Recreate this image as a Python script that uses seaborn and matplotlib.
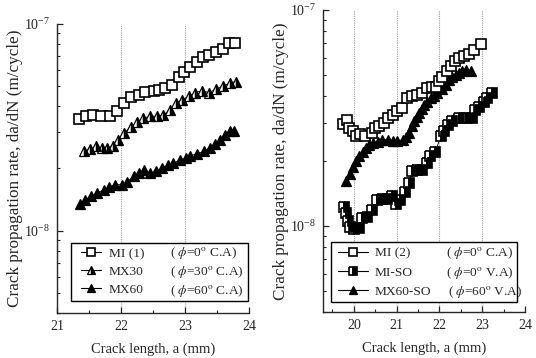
import matplotlib
matplotlib.use("Agg")
import matplotlib.pyplot as plt
import seaborn as sns
import numpy as np
import pandas as pd
from matplotlib.lines import Line2D
from matplotlib.patches import Rectangle
from matplotlib.ticker import LogLocator, MultipleLocator, NullFormatter

# ---------------- data (left panel) ----------------
mi1_x = [21.35, 21.46, 21.57, 21.69, 21.83, 21.94, 22.05, 22.16, 22.28, 22.38, 22.52, 22.60,
         22.68, 22.80, 22.90, 22.98, 23.08, 23.19, 23.28, 23.37, 23.49, 23.59, 23.68, 23.78]
mi1_y = [3.47e-8, 3.57e-8, 3.63e-8, 3.59e-8, 3.57e-8, 3.80e-8, 4.14e-8, 4.42e-8, 4.54e-8, 4.71e-8,
         4.76e-8, 4.80e-8, 4.89e-8, 5.07e-8, 5.52e-8, 5.88e-8, 6.22e-8, 6.58e-8, 6.90e-8, 7.08e-8,
         7.35e-8, 7.55e-8, 8.13e-8, 8.13e-8]

mx30_x = [21.42, 21.51, 21.61, 21.70, 21.78, 21.875, 21.95, 22.05, 22.15, 22.25, 22.35, 22.46,
          22.56, 22.66, 22.77, 22.86, 22.95, 23.06, 23.16, 23.27, 23.37, 23.49, 23.59, 23.70, 23.79]
mx30_y = [2.42e-8, 2.48e-8, 2.56e-8, 2.51e-8, 2.51e-8, 2.57e-8, 2.75e-8, 2.96e-8, 3.19e-8, 3.34e-8,
          3.50e-8, 3.59e-8, 3.57e-8, 3.63e-8, 3.84e-8, 4.14e-8, 4.30e-8, 4.46e-8, 4.66e-8, 4.76e-8,
          4.66e-8, 4.83e-8, 5.01e-8, 5.17e-8, 5.27e-8]

mx60_x = [21.36, 21.44, 21.53, 21.625, 21.73, 21.82, 21.91, 22.02, 22.10, 22.20, 22.28, 22.36,
          22.46, 22.55, 22.64, 22.74, 22.82, 22.92, 23.01, 23.08, 23.19, 23.29, 23.39, 23.47,
          23.55, 23.63, 23.71, 23.77]
mx60_y = [1.34e-8, 1.41e-8, 1.47e-8, 1.52e-8, 1.58e-8, 1.63e-8, 1.67e-8, 1.67e-8, 1.73e-8, 1.83e-8,
          1.90e-8, 1.96e-8, 1.90e-8, 1.94e-8, 2.01e-8, 2.08e-8, 2.12e-8, 2.20e-8, 2.24e-8, 2.30e-8,
          2.36e-8, 2.42e-8, 2.51e-8, 2.63e-8, 2.75e-8, 2.91e-8, 3.02e-8, 3.04e-8]

# ---------------- data (right panel) ----------------
mi2_x = [19.74, 19.845, 19.88, 19.98, 20.05, 20.155, 20.27, 20.43, 20.50, 20.58, 20.70, 20.81,
         20.91, 21.01, 21.12, 21.24, 21.36, 21.47, 21.59, 21.705, 21.82, 21.91, 21.98, 22.05,
         22.17, 22.26, 22.36, 22.46, 22.58, 22.69, 22.81, 22.98]
mi2_y = [2.96e-8, 3.10e-8, 2.84e-8, 2.74e-8, 2.61e-8, 2.66e-8, 2.60e-8, 2.69e-8, 2.84e-8, 2.89e-8,
         2.99e-8, 3.16e-8, 3.27e-8, 3.39e-8, 3.51e-8, 3.91e-8, 3.98e-8, 4.05e-8, 4.15e-8, 4.35e-8,
         4.40e-8, 4.40e-8, 4.67e-8, 4.92e-8, 5.20e-8, 5.48e-8, 5.78e-8, 5.99e-8, 6.10e-8, 6.28e-8,
         6.55e-8, 6.95e-8]

miso_x = [19.77, 19.81, 19.87, 19.92, 20.00, 20.12, 20.19, 20.31, 20.43, 20.54, 20.66, 20.78,
          20.89, 20.98, 21.09, 21.19, 21.28, 21.36, 21.47, 21.59, 21.705, 21.78, 21.90, 22.03,
          22.11, 22.19, 22.30, 22.46, 22.61, 22.77, 22.84, 22.92, 23.04, 23.12, 23.22]
miso_y = [1.23e-8, 1.15e-8, 1.05e-8, 9.93e-9, 9.65e-9, 9.75e-9, 1.09e-8, 1.10e-8, 1.19e-8, 1.32e-8,
          1.34e-8, 1.33e-8, 1.38e-8, 1.27e-8, 1.32e-8, 1.44e-8, 1.58e-8, 1.79e-8, 1.81e-8, 1.82e-8,
          1.95e-8, 2.10e-8, 2.19e-8, 2.60e-8, 2.74e-8, 2.94e-8, 3.05e-8, 3.16e-8, 3.16e-8, 3.16e-8,
          3.45e-8, 3.57e-8, 3.77e-8, 3.91e-8, 4.12e-8]

mx60so_x = [19.82, 19.90, 19.98, 20.05, 20.13, 20.21, 20.29, 20.36, 20.44, 20.56, 20.67, 20.79,
            20.91, 21.02, 21.14, 21.22, 21.29, 21.36, 21.41, 21.47, 21.53, 21.59, 21.64, 21.72,
            21.80, 21.88, 21.95, 22.05, 22.15, 22.22, 22.30, 22.38, 22.46, 22.53, 22.61, 22.73]
mx60so_y = [1.61e-8, 1.74e-8, 1.88e-8, 1.99e-8, 2.10e-8, 2.20e-8, 2.29e-8, 2.36e-8, 2.42e-8, 2.46e-8,
            2.51e-8, 2.51e-8, 2.48e-8, 2.48e-8, 2.51e-8, 2.58e-8, 2.69e-8, 2.89e-8, 3.05e-8, 3.19e-8,
            3.33e-8, 3.48e-8, 3.64e-8, 3.77e-8, 3.91e-8, 4.01e-8, 4.12e-8, 4.30e-8, 4.51e-8, 4.72e-8,
            4.92e-8, 5.01e-8, 5.10e-8, 5.22e-8, 5.29e-8, 5.20e-8]

left_names = ["MI (1)", "MX30", "MX60"]
left_angles = [r"( $\phi$=0$^{\rm o}$ C.A)", r"( $\phi$=30$^{\rm o}$ C.A)", r"( $\phi$=60$^{\rm o}$ C.A)"]
right_names = ["MI (2)", "MI-SO", "MX60-SO"]
right_angles = [r"( $\phi$=0$^{\rm o}$ C.A)", r"( $\phi$=0$^{\rm o}$ V.A)", r"( $\phi$=60$^{\rm o}$ V.A)"]
left_xticks = [21, 22, 23, 24]
right_xticks = [20, 21, 22, 23, 24]
left_grid = [22, 23]
right_grid = [20, 21, 22, 23]

# ---------------- style ----------------
sns.set_style("ticks")
plt.rcParams["font.family"] = ["Liberation Serif", "DejaVu Serif"]
plt.rcParams["mathtext.fontset"] = "stix"

W, H = 536, 358
fig = plt.figure(figsize=(W / 100, H / 100), dpi=100)

def px_rect(l, t, r, b):
    return [l / W, 1 - b / H, (r - l) / W, (b - t) / H]

axL = fig.add_axes(px_rect(57, 24, 249, 313))
axR = fig.add_axes(px_rect(323, 10, 525, 312))

styles = {
    "sq_open": dict(marker="s", markersize=7.0, markerfacecolor="white", markeredgecolor="black",
                    markeredgewidth=1.2),
    "tri_half": dict(marker="^", markersize=7.5, fillstyle="left", markerfacecolor="white",
                     markerfacecoloralt="black", markeredgecolor="black", markeredgewidth=0.9),
    "tri_full": dict(marker="^", markersize=7.5, markerfacecolor="black", markeredgecolor="black",
                     markeredgewidth=0.9),
    "sq_half": dict(marker="s", markersize=7.0, fillstyle="left", markerfacecolor="white",
                    markerfacecoloralt="black", markeredgecolor="black", markeredgewidth=1.2),
}

def draw(ax, x, y, st):
    df = pd.DataFrame({"x": x, "y": y})
    sns.lineplot(data=df, x="x", y="y", ax=ax, sort=False, estimator=None, color="black",
                 linewidth=0.6, **styles[st])

draw(axL, mi1_x, mi1_y, "sq_open")
draw(axL, mx30_x, mx30_y, "tri_half")
draw(axL, mx60_x, mx60_y, "tri_full")

draw(axR, mx60so_x, mx60so_y, "tri_full")
draw(axR, miso_x, miso_y, "sq_half")
draw(axR, mi2_x, mi2_y, "sq_open")

for ax, xl, xt, gl in [(axL, (21, 24), left_xticks, left_grid),
                       (axR, (19.28, 24), right_xticks, right_grid)]:
    ax.set_yscale("log")
    ax.set_ylim(4.0e-9, 1e-7)
    ax.set_xlim(*xl)
    ax.set_xticks(xt)
    ax.xaxis.set_minor_locator(MultipleLocator(0.5))
    ax.yaxis.set_major_locator(LogLocator(base=10, numticks=10))
    ax.yaxis.set_minor_locator(LogLocator(base=10, subs=np.arange(2, 10), numticks=20))
    ax.yaxis.set_minor_formatter(NullFormatter())
    for g in gl:
        ax.axvline(g, color="#a0a0a0", linestyle=(0, (1, 1)), linewidth=0.8, zorder=0)
    ax.spines["top"].set_visible(False)
    ax.spines["right"].set_visible(False)
    for s in ["left", "bottom"]:
        ax.spines[s].set_linewidth(1.0)
    ax.tick_params(which="major", direction="in", length=4, width=0.9, labelsize=10, pad=5)
    ax.tick_params(which="minor", direction="in", length=2.5, width=0.8)
    ax.set_xlabel("Crack length, a (mm)", fontsize=10.5, labelpad=7)
    ax.set_ylabel("Crack propagation rate, da/dN (m/cycle)", fontsize=12.3, labelpad=1)

# ---------------- legends ----------------
def make_legend(ax, names, angles, sts, box, handle_x, hlen_px, text_x, ang_x, rows):
    l, t, r, b = box
    rect = Rectangle((l / W, 1 - b / H), (r - l) / W, (b - t) / H, transform=fig.transFigure,
                     facecolor="white", edgecolor="black", linewidth=1.0, zorder=5, clip_on=False)
    fig.patches.append(rect)
    fs = 9.6
    fpx = fs * 100 / 72
    hs = []
    for s in sts:
        d = dict(styles[s])
        d["markersize"] = d["markersize"] - 1.5
        hs.append(Line2D([], [], color="black", linewidth=0.8, **d))
    cy = (rows[0] + rows[-1]) / 2
    leg = fig.legend(hs, names, loc="center left",
                     bbox_to_anchor=(handle_x / W, 1 - cy / H), frameon=False, fontsize=fs,
                     borderpad=0, borderaxespad=0, handlelength=hlen_px / fpx,
                     handletextpad=(text_x - handle_x - hlen_px) / fpx,
                     labelspacing=(rows[1] - rows[0] - fpx) / fpx)
    leg.set_zorder(6)
    for a, ax_x, ry in zip(angles, ang_x, rows):
        fig.text(ax_x / W, 1 - ry / H, a, fontsize=fs, va="center", ha="left", zorder=7)

make_legend(axL, left_names, left_angles, ["sq_open", "tri_half", "tri_full"],
            (71, 243, 248, 301), 81, 20, 109, [170, 170, 170], [253, 272, 291])
make_legend(axR, right_names, right_angles, ["sq_open", "sq_half", "tri_full"],
            (331, 242, 517, 302), 338, 30, 375, [446, 446, 448], [253, 273, 292])

fig.savefig("out.png", dpi=100)
